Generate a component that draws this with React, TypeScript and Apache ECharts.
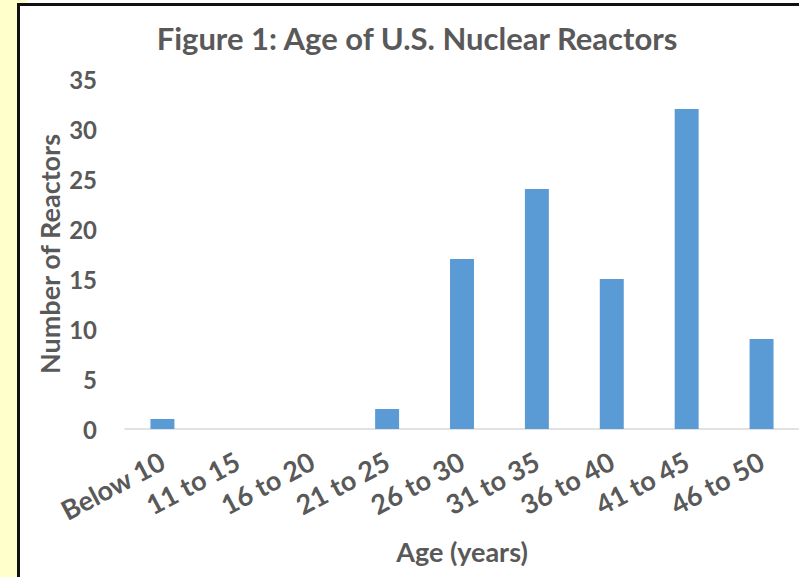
import React, { useEffect, useRef } from "react";
import * as echarts from "echarts";

const categories = ["Below 10", "11 to 15", "16 to 20", "21 to 25", "26 to 30", "31 to 35", "36 to 40", "41 to 45", "46 to 50"];
const reactorCounts = [1, 0, 0, 2, 17, 24, 15, 32, 9];
const yTicks = { min: 0, max: 35, interval: 5 };
const titleText = "Figure 1: Age of U.S. Nuclear Reactors";
const xName = "Age (years)";
const yName = "Number of Reactors";

const FONT = "Lato, 'Open Sans', sans-serif";
const GREY = "#595959";

export default function App() {
  const ref = useRef<HTMLDivElement>(null);
  useEffect(() => {
    if (!ref.current) return;
    const chart = echarts.init(ref.current, undefined, { renderer: "svg" });
    chart.setOption({
      animation: false,
      backgroundColor: "#ffffff",
      title: {
        text: titleText,
        left: 412,
        top: 17,
        textAlign: "center",
        textStyle: { fontFamily: FONT, fontWeight: "bold", fontSize: 31, color: GREY },
      },
      grid: { left: 125, right: -1, top: 79, bottom: 148 },
      xAxis: {
        type: "category",
        data: categories,
        name: xName,
        nameLocation: "middle",
        nameGap: 109,
        nameMoveOverlap: false,
        nameTextStyle: { fontFamily: FONT, fontWeight: "bold", fontSize: 27, color: GREY },
        axisLine: { lineStyle: { color: "#d9d9d9", width: 1.5 } },
        axisTick: { show: false },
        axisLabel: {
          rotate: 28,
          margin: 30,
          fontFamily: FONT,
          fontWeight: "bold",
          fontSize: 27,
          color: GREY,
          interval: 0,
        },
      },
      yAxis: {
        type: "value",
        min: yTicks.min,
        max: yTicks.max,
        interval: yTicks.interval,
        name: yName,
        nameLocation: "middle",
        nameGap: 62,
        nameMoveOverlap: false,
        nameTextStyle: { fontFamily: FONT, fontWeight: "bold", fontSize: 27, color: GREY },
        axisLine: { show: false },
        axisTick: { show: false },
        splitLine: { show: false },
        axisLabel: { margin: 28, fontFamily: FONT, fontWeight: "bold", fontSize: 24, color: GREY },
      },
      series: [
        {
          type: "bar",
          data: reactorCounts,
          barWidth: "32%",
          itemStyle: { color: "#5b9bd5" },
        },
      ],
      graphic: [
        { type: "rect", shape: { x: 0, y: 0, width: 17, height: 577 }, style: { fill: "#ffffcc" }, z: 100 },
        { type: "rect", shape: { x: 0, y: 0, width: 27, height: 3 }, style: { fill: "#ffffcc" }, z: 100 },
        { type: "rect", shape: { x: 17, y: 3, width: 3, height: 574 }, style: { fill: "#111111" }, z: 101 },
        { type: "rect", shape: { x: 17, y: 3, width: 782, height: 3 }, style: { fill: "#111111" }, z: 101 },
      ],
    });
    return () => chart.dispose();
  }, []);
  return (
    <div
      ref={ref}
      style={{ position: "fixed", left: 0, top: 0, width: 799, height: 577 }}
    />
  );
}
